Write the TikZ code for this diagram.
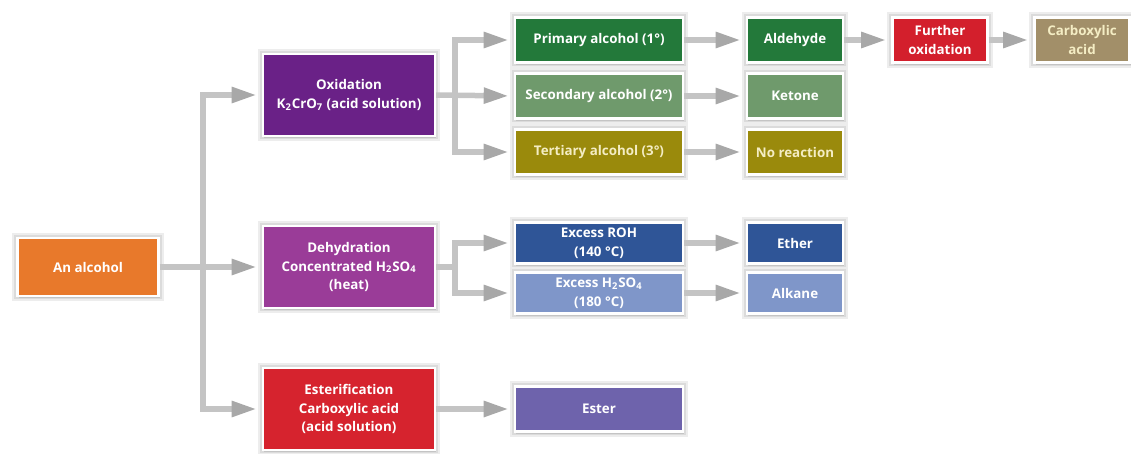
\documentclass[tikz,border=0pt]{standalone}
\usepackage{fontspec}
\setmainfont{Open Sans}
\usetikzlibrary{positioning,arrows.meta,shadows}
\definecolor{alcorange}{HTML}{E8792B}
\definecolor{oxpurple}{HTML}{6A2187}
\definecolor{dehydpurple}{HTML}{9A3C98}
\definecolor{esterred}{HTML}{D6232E}
\definecolor{darkgreen}{HTML}{23793A}
\definecolor{greygreen}{HTML}{6F9A6C}
\definecolor{olive}{HTML}{9A8A0C}
\definecolor{darkblue}{HTML}{2F5597}
\definecolor{lightblue}{HTML}{7F96C9}
\definecolor{furtherred}{HTML}{D31F2C}
\definecolor{tan}{HTML}{A28F69}
\definecolor{esterviolet}{HTML}{6E63AC}
\definecolor{connector}{HTML}{C4C4C4}
\definecolor{tipgrey}{HTML}{A8A8A8}
\definecolor{cream}{HTML}{F4EDC4}
\begin{document}
\begin{tikzpicture}[
  x=0.02cm, y=-0.02cm,
  box/.style={draw=white, line width=1.2pt, text=white, align=center, inner sep=1pt,
    font=\fontsize{7.6}{10.5}\selectfont\bfseries,
    preaction={draw=black!7, line width=6pt},
    preaction={draw=black!14, line width=3.6pt},
    drop shadow={shadow xshift=0.8pt, shadow yshift=-1.4pt, opacity=0.25}},
  stepbox/.style={box, minimum width=3.44cm, minimum height=1.64cm},
  condbox/.style={box, minimum width=3.36cm, minimum height=0.9cm},
  prodbox/.style={box, minimum width=1.92cm, minimum height=0.9cm},
  conn/.style={draw=connector, line width=0.11cm,
    -{Triangle[length=0.5cm, width=0.3cm, color=tipgrey]}, shorten >=3pt},
  trunk/.style={draw=connector, line width=0.11cm}
]
\useasboundingbox (0,0) rectangle (1131,453);
% start and the three reactions
\node[box, fill=alcorange, minimum width=2.82cm, minimum height=1.16cm] (alc) at (88,267) {An alcohol};
\node[stepbox, fill=oxpurple] (oxid) at (349,95) {Oxidation\\K\textsubscript{2}CrO\textsubscript{7} (acid solution)};
\node[stepbox, fill=dehydpurple] (dehyd) at (349,267) {Dehydration\\Concentrated H\textsubscript{2}SO\textsubscript{4}\\(heat)};
\node[stepbox, fill=esterred] (esterif) at (349,409) {Esterification\\Carboxylic acid\\(acid solution)};
% oxidation branch
\node[condbox, fill=darkgreen] (prim) at (599,40) {Primary alcohol (1°)};
\node[condbox, fill=greygreen] (sec) at (599,96) {Secondary alcohol (2°)};
\node[condbox, fill=olive, text=cream] (tert) at (599,152) {Tertiary alcohol (3°)};
\node[prodbox, fill=darkgreen] (ald) at (795,40) {Aldehyde};
\node[prodbox, fill=greygreen] (ket) at (795,96) {Ketone};
\node[prodbox, fill=olive, text=cream] (nore) at (795,152) {No reaction};
\node[prodbox, fill=furtherred, minimum width=1.9cm] (further) at (940,40) {Further\\oxidation};
\node[prodbox, fill=tan, text=cream, minimum width=1.9cm] (carb) at (1082,40) {Carboxylic\\acid};
% dehydration branch
\node[condbox, fill=darkblue, minimum height=0.82cm] (roh) at (599,243) {Excess ROH\\(140 °C)};
\node[condbox, fill=lightblue, minimum height=0.82cm] (hso) at (599,293) {Excess H\textsubscript{2}SO\textsubscript{4}\\(180 °C)};
\node[prodbox, fill=darkblue, minimum height=0.82cm] (ether) at (795,243) {Ether};
\node[prodbox, fill=lightblue, minimum height=0.82cm] (alkane) at (795,293) {Alkane};
% esterification branch
\node[condbox, fill=esterviolet] (ester) at (599,409) {Ester};
% connectors
\coordinate (t0) at (203,267);
\coordinate (t1) at (455,95);
\coordinate (t2) at (455,267);
\draw[conn] (alc.east) -- (dehyd.west);
\draw[conn] (t0) |- (oxid.west);
\draw[conn] (t0) |- (esterif.west);
\draw[conn] (oxid.east) -- (sec.west);
\draw[conn] (t1) |- (prim.west);
\draw[conn] (t1) |- (tert.west);
\draw[trunk] (dehyd.east) -- (t2);
\draw[conn] (t2) |- (roh.west);
\draw[conn] (t2) |- (hso.west);
\draw[conn] (esterif.east) -- (ester.west);
\draw[conn] (prim) -- (ald);
\draw[conn] (sec) -- (ket);
\draw[conn] (tert) -- (nore);
\draw[conn] (roh) -- (ether);
\draw[conn] (hso) -- (alkane);
\draw[conn] (ald) -- (further);
\draw[conn] (further) -- (carb);
\end{tikzpicture}
\end{document}
